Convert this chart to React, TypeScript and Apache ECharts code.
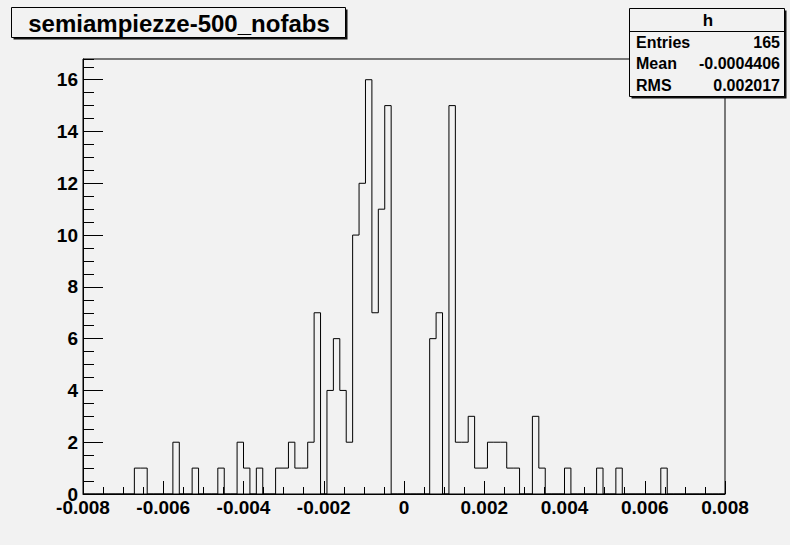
import React, { useEffect, useRef } from "react";
import * as echarts from "echarts";

const TITLE = "semiampiezze-500_nofabs";
const HIST_NAME = "h";
const BIN_LOW = -0.008;
const BIN_HIGH = 0.008;
// 100 bins of width 0.00016
const COUNTS = [
  0, 0, 0, 0, 0, 0, 0, 0, 1, 1,
  0, 0, 0, 0, 2, 0, 0, 1, 0, 0,
  0, 1, 0, 0, 2, 1, 0, 1, 0, 0,
  1, 1, 2, 1, 1, 2, 7, 0, 4, 6,
  4, 2, 10, 12, 16, 7, 11, 15, 0, 0,
  0, 0, 0, 0, 6, 7, 0, 15, 2, 2,
  3, 1, 1, 2, 2, 2, 1, 1, 0, 0,
  3, 1, 0, 0, 0, 1, 0, 0, 0, 0,
  1, 0, 0, 1, 0, 0, 0, 0, 0, 0,
  1, 0, 0, 0, 0, 0, 0, 0, 0, 0,
];
const STAT_NAMES = ["Entries", "Mean", "RMS"];
const STAT_VALUES = ["165", "-0.0004406", "0.002017"];
const Y_MAX = 16.8;

export default function App() {
  const ref = useRef<HTMLDivElement>(null);
  useEffect(() => {
    if (!ref.current) return;
    const chart = echarts.init(ref.current, null, { renderer: "svg" });
    const nb = COUNTS.length;
    const w = (BIN_HIGH - BIN_LOW) / nb;
    const data: number[][] = COUNTS.map((c, i) => [BIN_LOW + i * w, c]);
    data.push([BIN_HIGH, COUNTS[nb - 1]]);
    const bg = "#f2f2f2";
    const ff = "'Liberation Sans', Arial, Helvetica, sans-serif";
    const rowY = [42, 63.5, 85];
    const graphic: any[] = [
      { type: "rect", z: 100, shape: { x: 13.5, y: 9.5, width: 334, height: 30 }, style: { fill: "#111" } },
      { type: "rect", z: 101, shape: { x: 11.5, y: 7.5, width: 334, height: 30 }, style: { fill: bg, stroke: "#000", lineWidth: 1 } },
      { type: "text", z: 102, style: { text: TITLE, x: 179, y: 23, align: "center", verticalAlign: "middle", fontSize: 24, fontWeight: "bold", fontFamily: ff, fill: "#000" } },
      { type: "rect", z: 100, shape: { x: 631.5, y: 10.5, width: 155, height: 88 }, style: { fill: "#111" } },
      { type: "rect", z: 101, shape: { x: 629.5, y: 8.5, width: 155, height: 88 }, style: { fill: bg, stroke: "#000", lineWidth: 1 } },
      { type: "line", z: 102, shape: { x1: 629.5, y1: 31.5, x2: 784.5, y2: 31.5 }, style: { stroke: "#000", lineWidth: 1 } },
      { type: "text", z: 102, style: { text: HIST_NAME, x: 708, y: 20, align: "center", verticalAlign: "middle", fontSize: 17, fontWeight: "bold", fontFamily: ff, fill: "#000" } },
    ];
    STAT_NAMES.forEach((n, i) => {
      graphic.push({ type: "text", z: 102, style: { text: n, x: 636, y: rowY[i], align: "left", verticalAlign: "middle", fontSize: 16, fontWeight: "bold", fontFamily: ff, fill: "#000" } });
      graphic.push({ type: "text", z: 102, style: { text: STAT_VALUES[i], x: 780, y: rowY[i], align: "right", verticalAlign: "middle", fontSize: 16, fontWeight: "bold", fontFamily: ff, fill: "#000" } });
    });
    chart.setOption({
      animation: false,
      backgroundColor: bg,
      grid: { left: 83, right: 65, top: 59, bottom: 51, show: true, borderColor: "#000", borderWidth: 1, backgroundColor: bg },
      xAxis: {
        type: "value",
        min: BIN_LOW,
        max: BIN_HIGH,
        interval: 0.002,
        axisLine: { show: true, onZero: false, lineStyle: { color: "#000", width: 1 } },
        axisTick: { show: true, inside: true, length: 13, lineStyle: { color: "#000" } },
        minorTick: { show: true, splitNumber: 4, length: 7, lineStyle: { color: "#000" } },
        splitLine: { show: false },
        minorSplitLine: { show: false },
        axisLabel: {
          formatter: (v: number) => (Math.abs(v) < 1e-9 ? "0" : v.toFixed(3)),
          fontFamily: ff,
          fontWeight: "bold",
          fontSize: 19,
          color: "#000",
          margin: 4,
        },
      },
      yAxis: [
        {
          type: "value",
          min: 0,
          max: Y_MAX,
          interval: 2,
          position: "left",
          axisLine: { show: true, onZero: false, lineStyle: { color: "#000", width: 1 } },
          axisTick: { show: true, inside: true, length: 20, lineStyle: { color: "#000" } },
          splitLine: { show: false },
          axisLabel: {
            showMaxLabel: false,
            formatter: (v: number) => String(Math.round(v)),
            fontFamily: ff,
            fontWeight: "bold",
            fontSize: 19,
            color: "#000",
            margin: 5,
          },
        },
        {
          type: "value",
          min: 0,
          max: Y_MAX,
          interval: 0.5,
          position: "left",
          offset: 0,
          axisLine: { show: false, onZero: false },
          axisTick: { show: true, inside: true, length: 11, lineStyle: { color: "#000" } },
          splitLine: { show: false },
          axisLabel: { show: false },
        },
      ],
      series: [
        {
          type: "line",
          data,
          step: "end",
          symbol: "none",
          showSymbol: false,
          silent: true,
          xAxisIndex: 0,
          yAxisIndex: 0,
          z: 3,
          lineStyle: { color: "#000", width: 1 },
        },
      ],
      graphic,
    });
    return () => chart.dispose();
  }, []);
  return <div ref={ref} style={{ position: "fixed", left: 0, top: 0, width: 790, height: 545 }} />;
}
